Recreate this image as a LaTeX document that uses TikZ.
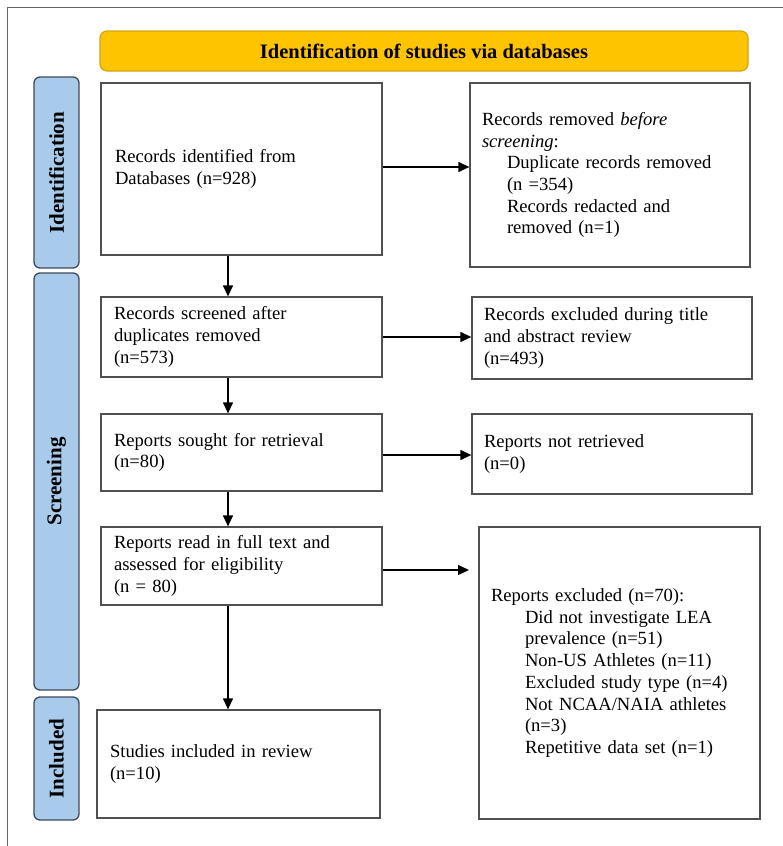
\documentclass[tikz,border=0pt]{standalone}
\usepackage{fontspec}
\setmainfont{Liberation Serif}
\usetikzlibrary{arrows.meta}
\definecolor{banner}{HTML}{FFC400}
\definecolor{bannerline}{HTML}{D4A514}
\definecolor{sidefill}{HTML}{A9CBEB}
\definecolor{sideline}{HTML}{3F4A57}
\definecolor{boxline}{HTML}{505050}
\tikzset{
  flowbox/.style={draw=boxline, line width=1.3pt, fill=white, inner sep=0pt,
    font=\fontsize{18.6}{21.7}\selectfont},
  sidebar/.style={draw=sideline, line width=1.3pt, fill=sidefill, rounded corners=6pt,
    minimum width=45pt, inner sep=0pt},
  sidetext/.style={rotate=90, font=\fontsize{21}{24}\selectfont\bfseries},
  flowarrow/.style={draw=black, line width=1.3pt, -{Triangle[length=11pt,width=10pt]}},
}
\newcommand{\ind}[1]{\hspace*{#1}}
\begin{document}
\begin{tikzpicture}[x=1pt,y=-1pt]
\useasboundingbox (0,0) rectangle (783,846);
% outer frame lines
\draw[draw=gray!80!black, line width=1pt] (7,846) -- (7,7) -- (783,7);

% banner
\node[draw=bannerline, line width=1.2pt, fill=banner, rounded corners=7pt,
  minimum width=648pt, minimum height=40pt, font=\fontsize{20.5}{22}\selectfont\bfseries]
  (banner) at (424,51) {Identification of studies via databases};

% side bars
\node[sidebar, minimum height=191pt] (sideid) at (56.5,172.5) {};
\node[sidetext] at (sideid.center) {Identification};
\node[sidebar, minimum height=417pt] (sidescr) at (56.5,481.5) {};
\node[sidetext] at (sidescr.center) {Screening};
\node[sidebar, minimum height=123pt] (sideinc) at (56.5,758.5) {};
\node[sidetext] at (sideinc.center) {Included};

% left column
\node[flowbox, minimum width=281pt, minimum height=172pt, text width=253pt, align=left]
  (ident) at (241.5,169) {Records identified from\\Databases (n=928)};
\node[flowbox, minimum width=281pt, minimum height=80pt, text width=255pt, align=left]
  (screen) at (241.5,337) {Records screened after\\duplicates removed\\(n=573)};
\node[flowbox, minimum width=281pt, minimum height=77pt, text width=255pt, align=left]
  (sought) at (241.5,452.5) {Reports sought for retrieval\\(n=80)};
\node[flowbox, minimum width=281pt, minimum height=78pt, text width=255pt, align=left]
  (full) at (241.5,566) {Reports read in full text and\\assessed for eligibility\\(n = 80)};
\node[flowbox, minimum width=283pt, minimum height=108pt, text width=257pt, align=left]
  (incl) at (238.5,764) {Studies included in review\\(n=10)\par\vspace{20pt}};

% right column
\node[flowbox, minimum width=280pt, minimum height=184pt, text width=256pt, align=left]
  (removed) at (610,175) {Records removed \textit{before}\\\textit{screening}:\\
  \ind{25pt}Duplicate records removed\\\ind{25pt}(n =354)\\
  \ind{25pt}Records redacted and\\\ind{25pt}removed (n=1)};
\node[flowbox, minimum width=280pt, minimum height=82pt, text width=256pt, align=left]
  (excl1) at (612,338) {Records excluded during title\\and abstract review\\(n=493)};
\node[flowbox, minimum width=280pt, minimum height=80pt, text width=256pt, align=left]
  (notret) at (612,454) {Reports not retrieved\\(n=0)};
\node[flowbox, minimum width=281pt, minimum height=292pt, text width=257pt, align=left]
  (excl3) at (619.5,673) {Reports excluded (n=70):\\
  \ind{34pt}Did not investigate LEA\\\ind{34pt}prevalence (n=51)\\
  \ind{34pt}Non-US Athletes (n=11)\\\ind{34pt}Excluded study type (n=4)\\
  \ind{34pt}Not NCAA/NAIA athletes\\\ind{34pt}(n=3)\\
  \ind{34pt}Repetitive data set (n=1)};

% connectors
\draw[flowarrow] (ident.south -| 228,0) -- (screen.north -| 228,0);
\draw[flowarrow] (screen.south -| 228,0) -- (sought.north -| 228,0);
\draw[flowarrow] (sought.south -| 228,0) -- (full.north -| 228,0);
\draw[flowarrow] (full.south -| 228,0) -- (incl.north -| 228,0);
\draw[flowarrow] (ident.east |- 0,167) -- (removed.west |- 0,167);
\draw[flowarrow] (screen.east |- 0,337) -- (excl1.west |- 0,337);
\draw[flowarrow] (sought.east |- 0,455) -- (notret.west |- 0,455);
\coordinate (excl3tip) at (469,570);
\draw[flowarrow] (full.east |- excl3tip) -- (excl3tip);
\end{tikzpicture}
\end{document}
